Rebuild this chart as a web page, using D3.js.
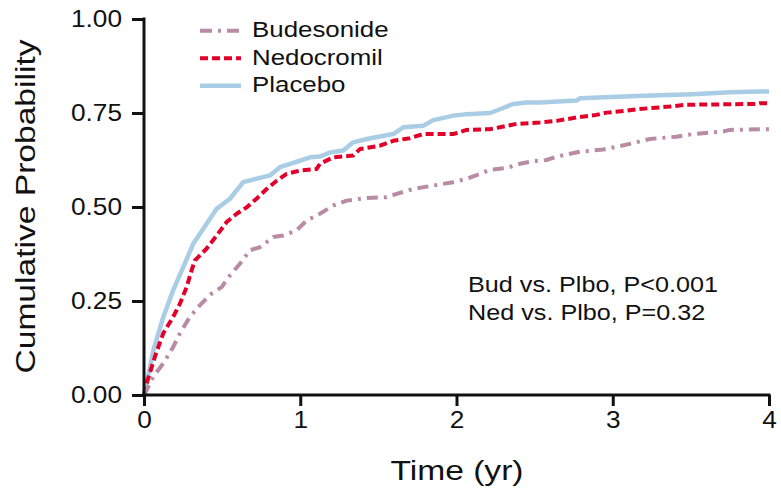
<!DOCTYPE html>
<html>
<head>
<meta charset="utf-8">
<script src="https://cdn.jsdelivr.net/npm/d3@7"></script>
<style>
  body { margin: 0; background: #fff; }
  svg text { font-family: "Liberation Sans", Arial, sans-serif; fill: #111; }
</style>
</head>
<body>
<div id="chart"></div>
<script>
// series: time (yr) and cumulative probability
var seriesNames = ["Budesonide", "Nedocromil", "Placebo"];

var budT = [0, 0.017, 0.06, 0.123, 0.187, 0.23, 0.294, 0.358, 0.433, 0.497, 0.55, 0.614, 0.678, 0.742, 0.827, 0.891, 0.977, 1.041, 1.126, 1.211, 1.297, 1.425, 1.553, 1.617, 1.723, 1.851, 1.979, 2.065, 2.15, 2.214, 2.321, 2.406, 2.491, 2.576, 2.64, 2.79, 2.939, 3.024, 3.109, 3.237, 3.408, 3.514, 3.706, 3.749, 4.0];
var budP = [0, 0.013, 0.049, 0.084, 0.128, 0.164, 0.208, 0.239, 0.270, 0.287, 0.318, 0.349, 0.385, 0.393, 0.420, 0.424, 0.438, 0.464, 0.482, 0.504, 0.517, 0.524, 0.526, 0.535, 0.548, 0.557, 0.566, 0.575, 0.588, 0.599, 0.604, 0.615, 0.622, 0.625, 0.634, 0.647, 0.653, 0.660, 0.668, 0.681, 0.687, 0.694, 0.701, 0.705, 0.707];

var nedT = [0, 0.017, 0.07, 0.123, 0.187, 0.23, 0.273, 0.305, 0.326, 0.40, 0.465, 0.529, 0.593, 0.657, 0.72, 0.785, 0.849, 0.913, 0.998, 1.105, 1.126, 1.211, 1.339, 1.382, 1.51, 1.595, 1.702, 1.787, 1.979, 2.065, 2.214, 2.278, 2.384, 2.534, 2.64, 2.768, 2.896, 2.96, 3.088, 3.152, 3.365, 3.472, 3.92, 3.94, 4.0];
var nedP = [0, 0.031, 0.102, 0.164, 0.208, 0.243, 0.287, 0.332, 0.358, 0.389, 0.424, 0.460, 0.482, 0.499, 0.522, 0.548, 0.570, 0.588, 0.597, 0.601, 0.615, 0.632, 0.637, 0.654, 0.663, 0.676, 0.683, 0.694, 0.694, 0.705, 0.707, 0.712, 0.721, 0.725, 0.729, 0.738, 0.745, 0.751, 0.756, 0.760, 0.767, 0.772, 0.774, 0.776, 0.776];

var plaT = [0, 0.017, 0.06, 0.123, 0.187, 0.251, 0.315, 0.40, 0.464, 0.55, 0.635, 0.72, 0.806, 0.87, 0.998, 1.062, 1.126, 1.19, 1.275, 1.339, 1.425, 1.595, 1.659, 1.787, 1.851, 1.979, 2.065, 2.214, 2.278, 2.363, 2.449, 2.534, 2.768, 2.79, 3.195, 3.514, 3.749, 3.94, 4.0];
var plaP = [0, 0.031, 0.119, 0.207, 0.279, 0.340, 0.402, 0.455, 0.495, 0.522, 0.566, 0.575, 0.584, 0.606, 0.623, 0.632, 0.634, 0.645, 0.650, 0.672, 0.681, 0.694, 0.712, 0.716, 0.731, 0.743, 0.747, 0.750, 0.760, 0.774, 0.778, 0.778, 0.783, 0.789, 0.796, 0.800, 0.805, 0.807, 0.807];

var xTicks = [0, 1, 2, 3, 4];
var yTicks = [0, 0.25, 0.5, 0.75, 1];
var notes = ["Bud vs. Plbo, P<0.001", "Ned vs. Plbo, P=0.32"];

var width = 781, height = 493;
var stretch = 1.14; // the figure's type is a wide grotesque, so widen Liberation Sans a bit

var svg = d3.select("#chart").append("svg")
    .attr("width", width)
    .attr("height", height);

var x = d3.scaleLinear().domain([0, 4]).range([144, 769]);
var y = d3.scaleLinear().domain([0, 1]).range([395, 19]);

var styles = {
    "Budesonide": {color: "#b98ba4", dash: "11,6,3,6", w: 4},
    "Nedocromil": {color: "#e2002b", dash: "8,4", w: 4},
    "Placebo":    {color: "#aacde6", dash: null, w: 4.5}
};

function zip(ts, ps) {
    return ts.map(function(t, i){ return [t, ps[i]]; });
}
var series = [
    {name: "Placebo", pts: zip(plaT, plaP)},
    {name: "Nedocromil", pts: zip(nedT, nedP)},
    {name: "Budesonide", pts: zip(budT, budP)}
];

var line = d3.line()
    .x(function(d){ return x(d[0]); })
    .y(function(d){ return y(d[1]); });

svg.append("g").selectAll("path")
    .data(series)
    .enter()
    .append("path")
    .attr("d", function(d){ return line(d.pts); })
    .attr("fill", "none")
    .attr("stroke", function(d){ return styles[d.name].color; })
    .attr("stroke-width", function(d){ return styles[d.name].w; })
    .attr("stroke-dasharray", function(d){ return styles[d.name].dash; })
    .attr("stroke-linejoin", "round");

// move a text's x into a transform so it can be widened in place
function widen(sel, s) {
    sel.each(function(){
        var t = d3.select(this);
        var tx = +t.attr("x") || 0, ty = +t.attr("y") || 0;
        t.attr("x", 0).attr("y", 0)
         .attr("transform", "translate(" + tx + "," + ty + ") scale(" + s + ",1)");
    });
}

// axes
var xAxis = svg.append("g")
    .attr("transform", "translate(0," + y(0) + ")")
    .call(d3.axisBottom(x).tickValues(xTicks).tickSize(11).tickSizeOuter(0).tickPadding(6).tickFormat(d3.format("d")));

var yAxis = svg.append("g")
    .attr("transform", "translate(" + x(0) + ",0)")
    .call(d3.axisLeft(y).tickValues(yTicks).tickSize(12).tickSizeOuter(0).tickPadding(10).tickFormat(d3.format(".2f")));

[xAxis, yAxis].forEach(function(a){
    a.select(".domain").attr("stroke", "#111").attr("stroke-width", 3);
    a.selectAll(".tick line").attr("stroke", "#111").attr("stroke-width", 3);
    a.selectAll(".tick text")
        .style("font-family", "Liberation Sans, Arial, sans-serif")
        .style("font-size", "23px")
        .attr("fill", "#111")
        .call(widen, stretch);
});
xAxis.select(".domain").attr("d", "M" + (x(0) - 1.5) + ",0H" + (x(4) + 1.5));
yAxis.select(".domain").attr("d", "M0," + (y(1) - 1.5) + "V" + (y(0) + 1.5));

// axis titles
svg.append("text")
    .attr("transform", "translate(457,479.5) scale(1.2,1)")
    .attr("text-anchor", "middle")
    .style("font-size", "28px")
    .text("Time (yr)");

svg.append("text")
    .attr("transform", "translate(35,206.5) rotate(-90) scale(1.2,1)")
    .attr("text-anchor", "middle")
    .style("font-size", "28px")
    .text("Cumulative Probability");

// legend
var legend = svg.append("g").selectAll("g")
    .data(seriesNames)
    .enter()
    .append("g")
    .attr("transform", function(d, i){ return "translate(200," + (30.7 + i * 27.5) + ")"; });

legend.append("line")
    .attr("x1", 0).attr("x2", 41)
    .attr("y1", 0).attr("y2", 0)
    .attr("stroke", function(d){ return styles[d].color; })
    .attr("stroke-width", function(d){ return styles[d].w; })
    .attr("stroke-dasharray", function(d){ return d === "Budesonide" ? "12,6,3,6" : styles[d].dash; });

legend.append("text")
    .attr("x", 52)
    .attr("y", 6.5)
    .style("font-size", "22.5px")
    .text(function(d){ return d; })
    .call(widen, 1.15);

// p-value notes
svg.append("g").selectAll("text")
    .data(notes)
    .enter()
    .append("text")
    .attr("x", 468)
    .attr("y", function(d, i){ return 291.5 + i * 28.5; })
    .style("font-size", "22.5px")
    .text(function(d){ return d; })
    .call(widen, 1.12);
</script>
</body>
</html>
